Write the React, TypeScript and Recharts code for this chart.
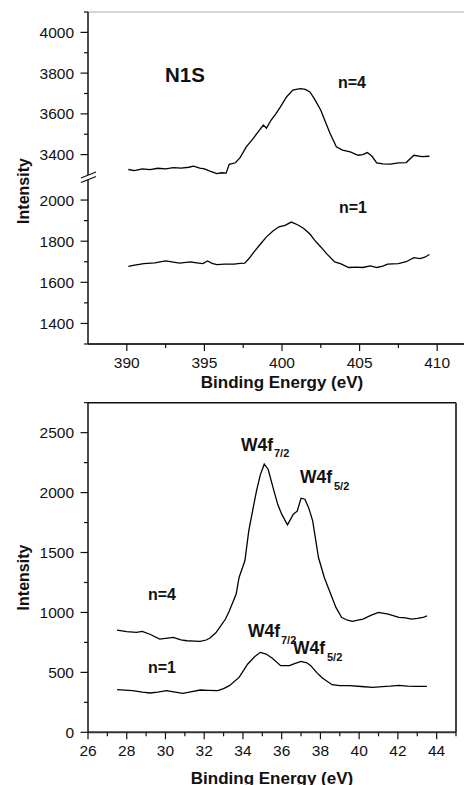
import { LineChart, Line, XAxis, YAxis, ReferenceLine } from "recharts";

// N1S panel, binding energy (eV) and intensity
const n1sEnergyN4 = [390.1, 390.5, 391.0, 391.5, 392.0, 392.5, 393.0, 393.5, 394.0, 394.3, 394.7, 395.0, 395.4, 395.8, 396.1, 396.4, 396.6, 397.0, 397.3, 397.7, 398.1, 398.5, 398.8, 399.0, 399.3, 399.6, 399.9, 400.3, 400.7, 401.0, 401.2, 401.5, 401.8, 402.1, 402.5, 402.8, 403.1, 403.5, 403.9, 404.4, 404.9, 405.2, 405.5, 405.8, 406.1, 406.5, 407.0, 407.5, 408.0, 408.5, 409.0, 409.5];
const n1sIntensityN4 = [3327, 3322, 3330, 3326, 3333, 3330, 3336, 3334, 3338, 3343, 3334, 3330, 3318, 3307, 3311, 3309, 3352, 3360, 3385, 3438, 3475, 3515, 3545, 3530, 3570, 3600, 3634, 3684, 3717, 3721, 3724, 3720, 3708, 3672, 3618, 3560, 3504, 3438, 3422, 3413, 3397, 3400, 3410, 3392, 3359, 3355, 3353, 3360, 3361, 3397, 3390, 3392];

const n1sEnergyN1 = [390.1, 390.5, 391.1, 391.8, 392.5, 393.0, 393.4, 394.1, 394.5, 394.9, 395.2, 395.5, 395.8, 396.3, 396.9, 397.3, 397.6, 397.9, 398.2, 398.6, 399.0, 399.4, 399.8, 400.2, 400.6, 401.0, 401.4, 401.8, 402.1, 402.5, 402.9, 403.4, 403.8, 404.3, 404.8, 405.2, 405.7, 406.1, 406.5, 406.8, 407.5, 408.0, 408.5, 408.9, 409.2, 409.5];
const n1sIntensityN1 = [1678, 1684, 1691, 1695, 1704, 1698, 1693, 1699, 1695, 1691, 1704, 1692, 1686, 1688, 1688, 1692, 1693, 1718, 1748, 1785, 1821, 1848, 1870, 1877, 1893, 1880, 1862, 1835, 1805, 1772, 1737, 1699, 1690, 1672, 1674, 1672, 1680, 1672, 1679, 1688, 1691, 1700, 1720, 1715, 1722, 1735];

// W4f panel
const w4fEnergyN4 = [27.5, 28.0, 28.5, 28.8, 29.2, 29.7, 30.0, 30.4, 30.8, 31.1, 31.5, 31.8, 32.1, 32.3, 32.6, 32.8, 33.1, 33.3, 33.65, 33.8, 34.1, 34.3, 34.5, 34.7, 34.9, 35.1, 35.3, 35.6, 35.8, 36.0, 36.3, 36.6, 36.8, 37.0, 37.2, 37.4, 37.6, 37.9, 38.2, 38.4, 38.8, 39.1, 39.4, 39.65, 40.0, 40.2, 40.6, 41.0, 41.5, 42.05, 42.4, 42.7, 43.0, 43.3, 43.5];
const w4fIntensityN4 = [853, 840, 833, 842, 818, 778, 784, 792, 772, 764, 760, 758, 770, 787, 830, 875, 945, 1014, 1153, 1292, 1431, 1681, 1850, 2014, 2150, 2237, 2195, 2014, 1900, 1820, 1731, 1820, 1845, 1953, 1945, 1870, 1764, 1458, 1292, 1208, 1042, 958, 935, 925, 938, 945, 975, 1000, 986, 958, 955, 945, 950, 958, 972];

const w4fEnergyN1 = [27.5, 27.9, 28.3, 28.8, 29.2, 29.6, 30.05, 30.5, 30.9, 31.3, 31.8, 32.2, 32.7, 33.0, 33.3, 33.8, 34.25, 34.6, 34.9, 35.2, 35.5, 35.95, 36.4, 36.7, 37.0, 37.3, 37.5, 37.8, 38.1, 38.6, 39.0, 39.5, 40.1, 40.7, 41.2, 41.6, 42.05, 42.5, 42.9, 43.5];
const w4fIntensityN1 = [356, 352, 347, 335, 328, 336, 347, 336, 325, 338, 353, 350, 347, 365, 389, 458, 570, 630, 667, 653, 620, 556, 556, 575, 592, 580, 556, 500, 453, 397, 390, 389, 382, 375, 381, 385, 392, 386, 383, 383];

// ticks
const n1sXTicks = [390, 392.5, 395, 397.5, 400, 402.5, 405, 407.5, 410, 412.5];
const n1sXMajor = [390, 395, 400, 405, 410];
const n1sUpperTicks = [3400, 3500, 3600, 3700, 3800, 3900, 4000, 4100];
const n1sLowerTicks = [1300, 1400, 1500, 1600, 1700, 1800, 1900, 2000];
const n1sYMajor = [1400, 1600, 1800, 2000, 3400, 3600, 3800, 4000];
const w4fXTicks = [26, 27, 28, 29, 30, 31, 32, 33, 34, 35, 36, 37, 38, 39, 40, 41, 42, 43, 44, 45];
const w4fXMajor = [26, 28, 30, 32, 34, 36, 38, 40, 42, 44];
const w4fYTicks = [0, 250, 500, 750, 1000, 1250, 1500, 1750, 2000, 2250, 2500, 2750];
const w4fYMajor = [0, 500, 1000, 1500, 2000, 2500];

const toPoints = (xs: number[], ys: number[]) => xs.map((x, i) => ({ x, y: ys[i] }));

const font = "'Liberation Sans', Arial, Helvetica, sans-serif";
const ink = "#111";

function yTick(majors: number[]) {
  return (props: any) => {
    const { x, y, payload } = props;
    const major = majors.includes(payload.value);
    return (
      <g>
        <line x1={x - (major ? 7.5 : 4)} x2={x} y1={y} y2={y} stroke={ink} strokeWidth={1.2} />
        {major && (
          <text x={x - 14} y={y} dy="0.36em" textAnchor="end" fontSize={15.5} fill={ink} fontFamily={font}>
            {payload.value}
          </text>
        )}
      </g>
    );
  };
}

function xTick(majors: number[], labelGap: number) {
  return (props: any) => {
    const { x, y, payload } = props;
    const major = majors.includes(payload.value);
    return (
      <g>
        <line x1={x} x2={x} y1={y} y2={y + (major ? 7 : 4)} stroke={ink} strokeWidth={1.2} />
        {major && (
          <text x={x} y={y + labelGap} dy="0.36em" textAnchor="middle" fontSize={15.5} fill={ink} fontFamily={font}>
            {payload.value}
          </text>
        )}
      </g>
    );
  };
}

const titleLabel = (offset: number) => ({
  value: "Binding Energy (eV)",
  position: "insideBottom" as const,
  offset,
  fontSize: 17,
  fontWeight: 700,
  fill: ink,
  fontFamily: font,
});

const bold = { fontFamily: font, fontWeight: 700, fill: ink };

export default function App() {
  return (
    <div style={{ position: "absolute", left: 0, top: 0, width: 464, height: 785, overflow: "hidden", background: "#fff" }}>
      {/* N1S, upper segment of the broken axis */}
      <div style={{ position: "absolute", left: 0, top: 0 }}>
        <LineChart width={476} height={175} margin={{ top: 12, right: 0, bottom: 0, left: 0 }}>
          <XAxis type="number" dataKey="x" domain={[387.5, 412.5]} hide allowDataOverflow />
          <YAxis
            type="number"
            domain={[3300, 4100]}
            ticks={n1sUpperTicks}
            interval={0}
            width={88}
            tickSize={0}
            tickMargin={0}
            tickLine={false}
            axisLine={{ stroke: ink, strokeWidth: 1.5 }}
            tick={yTick(n1sYMajor)}
            allowDataOverflow
          />
          <ReferenceLine y={4100} stroke="#aaa" strokeWidth={1.2} />
          <Line data={toPoints(n1sEnergyN4, n1sIntensityN4)} dataKey="y" stroke="#000" strokeWidth={1.3} dot={false} isAnimationActive={false} />
        </LineChart>
      </div>

      {/* N1S, lower segment with the x axis */}
      <div style={{ position: "absolute", left: 0, top: 176 }}>
        <LineChart width={476} height={218} margin={{ top: 3.5, right: 0, bottom: 6, left: 0 }}>
          <XAxis
            type="number"
            dataKey="x"
            domain={[387.5, 412.5]}
            ticks={n1sXTicks}
            interval={0}
            height={44}
            tickSize={0}
            tickMargin={0}
            tickLine={false}
            axisLine={{ stroke: "#333", strokeWidth: 2 }}
            tick={xTick(n1sXMajor, 18.3)}
            label={titleLabel(0)}
            allowDataOverflow
          />
          <YAxis
            type="number"
            domain={[1300, 2100]}
            ticks={n1sLowerTicks}
            interval={0}
            width={88}
            tickSize={0}
            tickMargin={0}
            tickLine={false}
            axisLine={{ stroke: ink, strokeWidth: 1.5 }}
            tick={yTick(n1sYMajor)}
            allowDataOverflow
          />
          <Line data={toPoints(n1sEnergyN1, n1sIntensityN1)} dataKey="y" stroke="#000" strokeWidth={1.3} dot={false} isAnimationActive={false} />
        </LineChart>
      </div>

      {/* W4f panel */}
      <div style={{ position: "absolute", left: 0, top: 380 }}>
        <LineChart width={464} height={405} margin={{ top: 22.7, right: 8, bottom: 0, left: 0 }}>
          <XAxis
            type="number"
            dataKey="x"
            domain={[26, 45]}
            ticks={w4fXTicks}
            interval={0}
            height={52.7}
            tickSize={0}
            tickMargin={0}
            tickLine={false}
            axisLine={{ stroke: "#333", strokeWidth: 2 }}
            tick={xTick(w4fXMajor, 17.7)}
            label={titleLabel(1.3)}
            allowDataOverflow
          />
          <YAxis
            type="number"
            domain={[0, 2750]}
            ticks={w4fYTicks}
            interval={0}
            width={88}
            tickSize={0}
            tickMargin={0}
            tickLine={false}
            axisLine={{ stroke: ink, strokeWidth: 1.5 }}
            tick={yTick(w4fYMajor)}
            allowDataOverflow
          />
          <ReferenceLine y={2750} stroke={ink} strokeWidth={1.5} />
          <ReferenceLine x={45} stroke="#444" strokeWidth={2} />
          <Line data={toPoints(w4fEnergyN4, w4fIntensityN4)} dataKey="y" stroke="#000" strokeWidth={1.3} dot={false} isAnimationActive={false} />
          <Line data={toPoints(w4fEnergyN1, w4fIntensityN1)} dataKey="y" stroke="#000" strokeWidth={1.3} dot={false} isAnimationActive={false} />
        </LineChart>
      </div>

      {/* axis titles, break marks and annotations */}
      <svg width={464} height={785} style={{ position: "absolute", left: 0, top: 0, pointerEvents: "none" }}>
        <text transform="translate(28.7,191) rotate(-90)" textAnchor="middle" fontSize={16} {...bold}>Intensity</text>
        <text transform="translate(29,577.5) rotate(-90)" textAnchor="middle" fontSize={16} {...bold}>Intensity</text>

        <line x1={81} y1={178} x2={96} y2={172} stroke={ink} strokeWidth={1.3} />
        <line x1={81} y1={182.5} x2={96} y2={176.5} stroke={ink} strokeWidth={1.3} />

        <text x={165} y={82.3} fontSize={20.5} {...bold}>N1S</text>
        <text x={338} y={87.7} fontSize={16} {...bold}>n=4</text>
        <text x={339} y={213.3} fontSize={16} {...bold}>n=1</text>

        <text x={241} y={451.3} fontSize={17.5} {...bold}>W4f</text>
        <text x={274} y={457} fontSize={11} {...bold}>7/2</text>
        <text x={300} y={483} fontSize={17.5} {...bold}>W4f</text>
        <text x={334} y={489.6} fontSize={11} {...bold}>5/2</text>

        <text x={148} y={599.7} fontSize={16} {...bold}>n=4</text>
        <text x={148} y={672.7} fontSize={16} {...bold}>n=1</text>

        <text x={248} y={637} fontSize={17.5} {...bold}>W4f</text>
        <text x={281} y={644} fontSize={11} {...bold}>7/2</text>
        <text x={293} y={654.3} fontSize={17.5} {...bold}>W4f</text>
        <text x={327} y={661} fontSize={11} {...bold}>5/2</text>
      </svg>
    </div>
  );
}
